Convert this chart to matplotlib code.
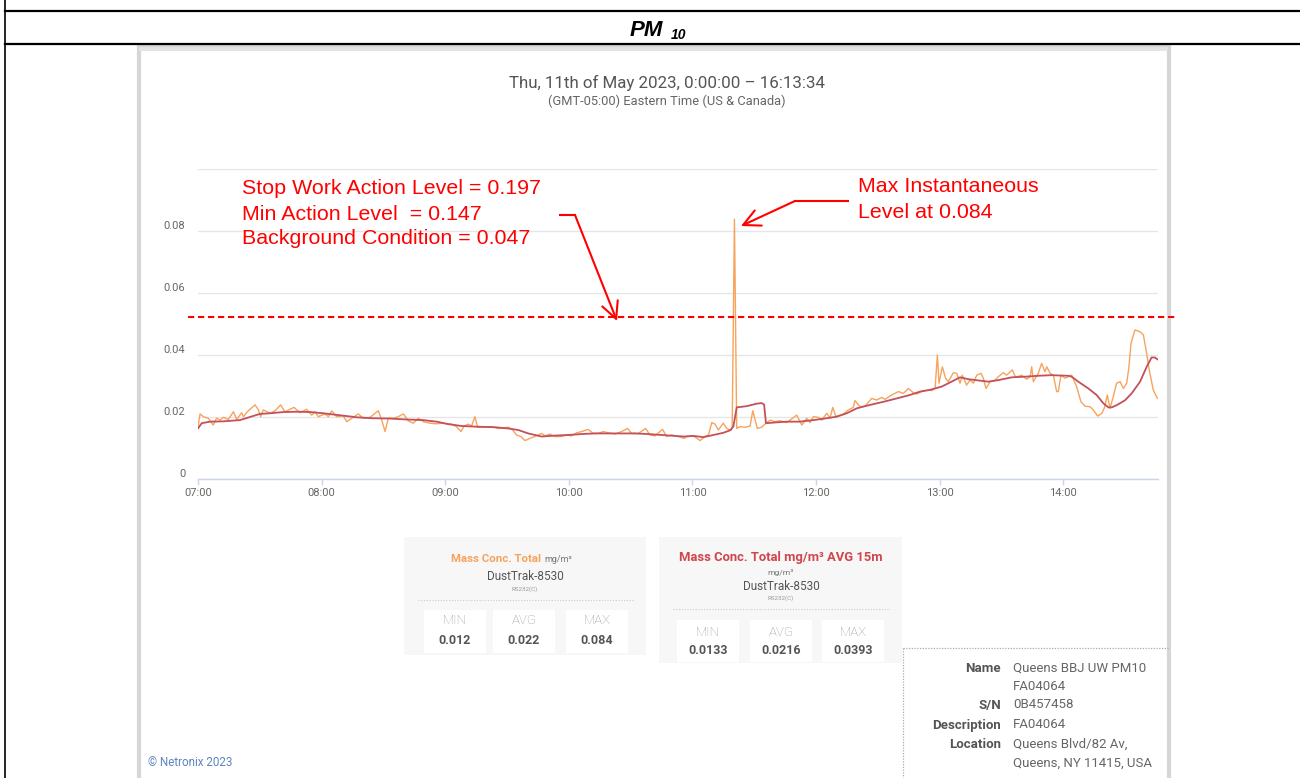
import matplotlib
matplotlib.use('Agg')
import matplotlib.pyplot as plt
from matplotlib.patches import Rectangle
from matplotlib.lines import Line2D

plt.rcParams['font.family'] = ['Roboto', 'DejaVu Sans']

# ---------------- data (minutes after 07:00, mg/m3) ----------------
raw_t = [0, 1, 2.6, 5, 7.4, 9, 10.7, 12.3, 14.7, 17.2, 18.8, 21.2, 22, 24.4, 27.7, 29.3,
         30.4, 31.7, 35, 37.4, 40.1, 42.2, 46.6, 49.5, 52.7, 55.2, 56.8, 58.4, 61.6, 63.3,
         64.9, 67.3, 70.5, 72.2, 75.4, 77.8, 80.3, 83.5, 87.5, 89.2, 90.8, 92.4, 94.8, 97.2,
         99.7, 102, 104.5, 106.9, 109.4, 112.6, 115.8,
         118.2, 123.1, 125.5, 127.6, 129.2, 131.2, 132.8, 134.4, 135.7, 139.3, 142.5, 145.7,
         150.6, 152.5, 154.6, 156.7, 158.7, 161.1, 163.5, 166.8, 168.4, 170.8, 173.2, 176.5,
         178.9, 181.3, 183.8, 186.2, 189.4, 191.9, 194.3, 196.7, 199.1, 202.4, 205.6, 208.5,
         210.5, 213.7, 217.3, 219.4, 221.8, 225.5, 227.5, 229.9, 233.1, 236,
         237.2, 240.5, 243.7, 246.1, 247.8, 249.4, 251, 252.6, 255, 256.7, 258.3, 259.3,
         260.4, 261.5, 263.1, 265.6, 268, 269.3, 271.5, 273.6, 275.7, 277.7, 280.1, 282.5,
         285.8, 290.6, 293.1, 295.5, 297.1, 298.7, 301.1, 302.8, 305.2, 306.8, 308.1, 309.7,
         313.3, 315.7, 318.1, 318.9, 321.4, 323.8, 327, 329.5, 331.9, 333.5, 336.7, 340,
         342.4, 344.8, 347.3, 348.9, 352.1,
         355, 356.1, 357.8, 358.9, 359.7, 361.3, 362.9, 364.2, 366.7, 368.3, 369.9, 371,
         373.1, 374.7, 376.4, 378, 380.1, 381.2, 382.5, 384.5, 386.9, 388.5, 390.9, 392.5,
         395.3, 396.9, 399.8, 402.2, 403.9, 404.7, 405.5, 407.9, 409.5, 411.1, 412, 413.6,
         415.2, 416.8, 417.6, 418.9, 420.9, 422.5, 424.1, 426.5, 428.6, 430.6, 433, 434.6,
         436.7, 438.7, 439.9, 441.4, 442.7, 444.3, 445.9, 447.6, 449.2, 450.8, 451.9, 452.9,
         454.8, 457.3, 458.9, 460.5, 461.6, 463.7, 465.7]
raw_v = [0.0169, 0.0210, 0.0201, 0.0196, 0.0174, 0.0196, 0.0190, 0.0199, 0.0192, 0.0217,
         0.0192, 0.0214, 0.0201, 0.0220, 0.0239, 0.0223, 0.0201, 0.0223, 0.0212, 0.0220,
         0.0239, 0.0217, 0.0231, 0.0214, 0.0225, 0.0206, 0.0217, 0.0201, 0.0210, 0.0201,
         0.0220, 0.0201, 0.0204, 0.0185, 0.0199, 0.0210, 0.0196, 0.0199, 0.0220, 0.0190,
         0.0153, 0.0196, 0.0196, 0.0201, 0.0210, 0.0188, 0.0180, 0.0196, 0.0185, 0.0180,
         0.0178,
         0.0180, 0.0177, 0.0169, 0.0153, 0.0171, 0.0177, 0.0171, 0.0201, 0.0167, 0.0167,
         0.0169, 0.0163, 0.0167, 0.0160, 0.0142, 0.0137, 0.0124, 0.0131, 0.0137, 0.0147,
         0.0139, 0.0145, 0.0137, 0.0137, 0.0142, 0.0139, 0.0149, 0.0153, 0.0160, 0.0147,
         0.0147, 0.0153, 0.0149, 0.0145, 0.0153, 0.0163, 0.0147, 0.0147, 0.0163, 0.0142,
         0.0139, 0.0160, 0.0137, 0.0142, 0.0137, 0.0131,
         0.0137, 0.0139, 0.0124, 0.0137, 0.0142, 0.0182, 0.0177, 0.0158, 0.0180, 0.0163,
         0.0158, 0.0165, 0.0838, 0.0163, 0.0169, 0.0167, 0.0171, 0.0220, 0.0163, 0.0167,
         0.0180, 0.0190, 0.0185, 0.0188, 0.0182, 0.0206, 0.0174, 0.0196, 0.0182, 0.0201,
         0.0199, 0.0190, 0.0212, 0.0196, 0.0231, 0.0201, 0.0210, 0.0223, 0.0231, 0.0253,
         0.0233, 0.0235, 0.0260, 0.0255, 0.0263, 0.0257, 0.0271, 0.0282, 0.0276, 0.0292,
         0.0278, 0.0274, 0.0285,
         0.0287, 0.0285, 0.0292, 0.0400, 0.0309, 0.0362, 0.0325, 0.0314, 0.0343, 0.0341,
         0.0309, 0.0335, 0.0303, 0.0319, 0.0309, 0.0335, 0.0341, 0.0325, 0.0292, 0.0314,
         0.0319, 0.0330, 0.0343, 0.0335, 0.0352, 0.0328, 0.0335, 0.0322, 0.0330, 0.0362,
         0.0314, 0.0341, 0.0373, 0.0346, 0.0362, 0.0341, 0.0335, 0.0282, 0.0282, 0.0335,
         0.0325, 0.0330, 0.0335, 0.0298, 0.0249, 0.0235, 0.0233, 0.0223, 0.0203, 0.0212,
         0.0228, 0.0271, 0.0228, 0.0266, 0.0309, 0.0314, 0.0292, 0.0309, 0.0362, 0.0438,
         0.0481, 0.0475, 0.0465, 0.0405, 0.0357, 0.0287, 0.0260]

avg_t = [0, 1.8, 5.8, 12.3, 20.4, 25.2, 30.1, 35, 41.5, 48, 54.5, 60.8, 65.8, 72.2, 77, 85,
         93, 101.2, 109.3, 115.8, 121.5, 127.9, 134.4, 144.1, 150.6, 155.5, 160.3, 166.8,
         173.2, 179.7, 186.2, 192.7, 199.1, 205.6, 212.1, 218.6, 225, 231.5, 236, 240.5,
         245.3, 250.2, 255, 258.6, 259.9, 261.5, 266.4, 271.2, 273.6, 274.8, 275.7, 279.3,
         285.8, 292.2, 298.7, 305.2, 310, 314.9, 319.8, 326.2, 332.7, 339.2, 345.6, 350.5,
         355, 361, 365.8, 369.9, 373.9, 378.8, 383.6, 388.5, 395, 401.4, 407.9, 414.4,
         417.6, 422.5, 424.1, 427.3, 432.2, 436.2, 439.5, 441.9, 443.5, 445.9, 450, 453.2,
         457.3, 460.5, 462.9, 464.5, 465.7]
avg_v = [0.0163, 0.0180, 0.0185, 0.0186, 0.0190, 0.0200, 0.0210, 0.0212, 0.0216, 0.0217,
         0.0216, 0.0212, 0.0208, 0.0203, 0.0199, 0.0196, 0.0195, 0.0192, 0.0190, 0.0185,
         0.0177, 0.0171, 0.0169, 0.0167, 0.0163, 0.0158, 0.0147, 0.0137, 0.0140, 0.0142,
         0.0145, 0.0147, 0.0147, 0.0147, 0.0147, 0.0145, 0.0142, 0.0139, 0.0137, 0.0139,
         0.0135, 0.0142, 0.0149, 0.0158, 0.0170, 0.0231, 0.0235, 0.0243, 0.0245, 0.0240,
         0.0180, 0.0182, 0.0185, 0.0185, 0.0190, 0.0196, 0.0201, 0.0212, 0.0228, 0.0239,
         0.0249, 0.0260, 0.0271, 0.0282, 0.0287, 0.0298, 0.0314, 0.0328, 0.0322, 0.0318,
         0.0314, 0.0319, 0.0328, 0.0330, 0.0333, 0.0335, 0.0334, 0.0333, 0.0330, 0.0314,
         0.0292, 0.0271, 0.0244, 0.0231, 0.0231, 0.0238, 0.0254, 0.0276, 0.0314, 0.0362,
         0.0392, 0.0392, 0.0386]

x_ticks = [0, 60, 120, 180, 240, 300, 360, 420]
x_labels = ['07:00', '08:00', '09:00', '10:00', '11:00', '12:00', '13:00', '14:00']
y_ticks = [0, 0.02, 0.04, 0.06, 0.08, 0.1]
y_labels = ['0', '0.02', '0.04', '0.06', '0.08', '']

stats_raw = ['0.012', '0.022', '0.084']
stats_avg = ['0.0133', '0.0216', '0.0393']
stat_names = ['MIN', 'AVG', 'MAX']

info_keys = ['Name', '', 'S/N', 'Description', 'Location', '']
info_vals = ['Queens BBJ UW PM10', 'FA04064', '0B457458', 'FA04064',
             'Queens Blvd/82 Av,', 'Queens, NY 11415, USA']
info_rows = [668, 686, 705, 725, 744, 763]

notes = ['Stop Work Action Level = 0.197', 'Min Action Level  = 0.147',
         'Background Condition = 0.047']

RAW_C = '#f7a35c'
AVG_C = '#c4505a'

# ---------------- layout helpers ----------------
W, H = 1300, 778
def fx(x):
    return x / W
def fy(y):
    return 1 - y / H

fig = plt.figure(figsize=(13, 7.78), dpi=100)
fig.patch.set_facecolor('white')

# table frame
fig.add_artist(Line2D([fx(5), fx(5)], [0, 1], color='black', lw=1.2))
for yy in (11, 44):
    fig.add_artist(Line2D([fx(5), 1], [fy(yy), fy(yy)], color='black', lw=1.6))
fig.text(fx(630), fy(30), 'PM', fontsize=16, fontweight='bold', fontstyle='italic',
         family='Liberation Sans', ha='left', va='center')
fig.text(fx(671), fy(35), '10', fontsize=10, fontweight='bold', fontstyle='italic',
         family='Liberation Sans', ha='left', va='center')

# screenshot panel
fig.add_artist(Rectangle((fx(139), fy(800)), fx(1169) - fx(139), fy(47) - fy(800),
                         facecolor='white', edgecolor='#d6d6d6', lw=3, zorder=-2))
fig.add_artist(Rectangle((fx(139), fy(51)), fx(1168) - fx(139), fy(47) - fy(51),
                         facecolor='#e4e4e4', edgecolor='none', zorder=-1))

fig.text(fx(667), fy(83), 'Thu, 11th of May 2023, 0:00:00 \u2013 16:13:34', fontsize=12.2,
         color='#555555', ha='center', va='center')
fig.text(fx(667), fy(101), '(GMT-05:00) Eastern Time (US & Canada)', fontsize=9.3,
         color='#666666', ha='center', va='center')

# ---------------- chart ----------------
ax = fig.add_axes([fx(198), fy(479), fx(1158) - fx(198), fy(169) - fy(479)])
ax.set_facecolor('none')
ax.plot(raw_t, raw_v, color=RAW_C, lw=1.0, zorder=3)
ax.plot(avg_t, avg_v, color=AVG_C, lw=1.3, zorder=4)
ax.set_xlim(0, 466)
ax.set_ylim(0, 0.1)
ax.set_xticks(x_ticks)
ax.set_xticklabels(x_labels)
ax.set_yticks(y_ticks)
ax.set_yticklabels(y_labels)
for lab in ax.get_yticklabels():
    lab.set_va('bottom')
ax.yaxis.grid(True, color='#e6e6e6', lw=1.0)
ax.set_axisbelow(True)
for s in ('top', 'right', 'left'):
    ax.spines[s].set_visible(False)
ax.spines['bottom'].set_color('#ccd6eb')
ax.spines['bottom'].set_linewidth(1.0)
ax.tick_params(axis='x', colors='#ccd6eb', length=4.5, width=1.0, pad=2.0,
               labelsize=8, labelcolor='#666666')
ax.tick_params(axis='y', length=0, pad=9, labelsize=8, labelcolor='#666666')

# ---------------- red annotations ----------------
for i, t in enumerate(notes):
    fig.text(fx(242), fy(189 + 25 * i), t, fontsize=15.4, color='red',
             family='Liberation Sans', ha='left', va='center')
fig.text(fx(858), fy(187), 'Max Instantaneous', fontsize=15.4, color='red',
         family='Liberation Sans', ha='left', va='center')
fig.text(fx(858), fy(212), 'Level at 0.084', fontsize=15.4, color='red',
         family='Liberation Sans', ha='left', va='center')

fig.add_artist(Line2D([fx(188), fx(1176)], [fy(317), fy(317)], color='red', lw=1.5,
                      linestyle=(0, (3, 1.8)), zorder=6))
fig.add_artist(Line2D([fx(560), fx(575)], [fy(215), fy(215)], color='red', lw=1.5, zorder=6))
fig.add_artist(Line2D([fx(848), fx(795)], [fy(201), fy(201)], color='red', lw=1.5, zorder=6))
arrow_kw = dict(arrowstyle='->,head_length=1.0,head_width=0.5', color='red', lw=1.5,
                shrinkA=0, shrinkB=0, mutation_scale=12)
ax.annotate('', xy=(fx(617), fy(321)), xycoords='figure fraction',
            xytext=(fx(575), fy(215)), textcoords='figure fraction',
            arrowprops=arrow_kw, annotation_clip=False, zorder=6)
ax.annotate('', xy=(fx(741), fy(226)), xycoords='figure fraction',
            xytext=(fx(795), fy(201)), textcoords='figure fraction',
            arrowprops=arrow_kw, annotation_clip=False, zorder=6)

# ---------------- stats boxes ----------------
def stat_box(x0, x1, y0, y1, sep_y, subs, lab_y, val_y, sub_y0, sub_y1, values):
    fig.add_artist(Rectangle((fx(x0), fy(y1)), fx(x1) - fx(x0), fy(y0) - fy(y1),
                             facecolor='#f7f7f7', edgecolor='none', zorder=-1))
    fig.add_artist(Line2D([fx(x0 + 14), fx(x1 - 12)], [fy(sep_y), fy(sep_y)],
                          color='#cccccc', lw=0.8, linestyle=(0, (1, 1.5)), zorder=0))
    for (cx, name, val) in zip(subs, stat_names, values):
        fig.add_artist(Rectangle((fx(cx - 31), fy(sub_y1)), fx(62), fy(sub_y0) - fy(sub_y1),
                                 facecolor='white', edgecolor='none', zorder=-0.5))
        fig.text(fx(cx), fy(lab_y), name, fontsize=9.5, color='#9a9a9a', ha='center',
                 va='center', fontweight='light')
        fig.text(fx(cx), fy(val_y), val, fontsize=9, color='#555555', ha='center',
                 va='center', fontweight='bold')

stat_box(404, 646, 537, 655, 600, [455, 524, 597], 620, 641, 610, 653, stats_raw)
fig.text(fx(541), fy(559), 'Mass Conc. Total', fontsize=8.2, color=RAW_C,
         fontweight='bold', ha='right', va='center')
fig.text(fx(544), fy(559), 'mg/m\u00b3', fontsize=6.5, color='#777777', ha='left', va='center')
fig.text(fx(525), fy(576), 'DustTrak-8530', fontsize=8.5, color='#555555', ha='center', va='center')
fig.text(fx(525), fy(589), 'RS232(C)', fontsize=4.5, color='#999999', ha='center', va='center')

stat_box(659, 902, 537, 663, 609, [708, 781, 853], 632, 651, 620, 662, stats_avg)
fig.text(fx(781), fy(558), 'Mass Conc. Total mg/m\u00b3 AVG 15m', fontsize=9.4, color='#d0464d',
         fontweight='bold', ha='center', va='center')
fig.text(fx(781), fy(572), 'mg/m\u00b3', fontsize=6, color='#777777', ha='center', va='center')
fig.text(fx(781), fy(587), 'DustTrak-8530', fontsize=8.5, color='#555555', ha='center', va='center')
fig.text(fx(781), fy(598), 'RS232(C)', fontsize=4.5, color='#999999', ha='center', va='center')

# ---------------- info box ----------------
fig.add_artist(Line2D([fx(903), fx(1168)], [fy(648), fy(648)], color='#aaaaaa', lw=0.9,
                      linestyle=(0, (1, 1.2))))
fig.add_artist(Line2D([fx(903), fx(903)], [fy(648), 0], color='#aaaaaa', lw=0.9,
                      linestyle=(0, (1, 1.2))))
for k, v, yy in zip(info_keys, info_vals, info_rows):
    if k:
        fig.text(fx(1001), fy(yy), k, fontsize=9.5, color='#555555', fontweight='bold',
                 ha='right', va='center')
    fig.text(fx(1013), fy(yy), v, fontsize=9.5, color='#666666', ha='left', va='center')

fig.text(fx(148), fy(762), '\u00a9 Netronix 2023', fontsize=8.4, color='#5b86bb',
         ha='left', va='center')

fig.savefig('out.png', dpi=100, facecolor='white')
